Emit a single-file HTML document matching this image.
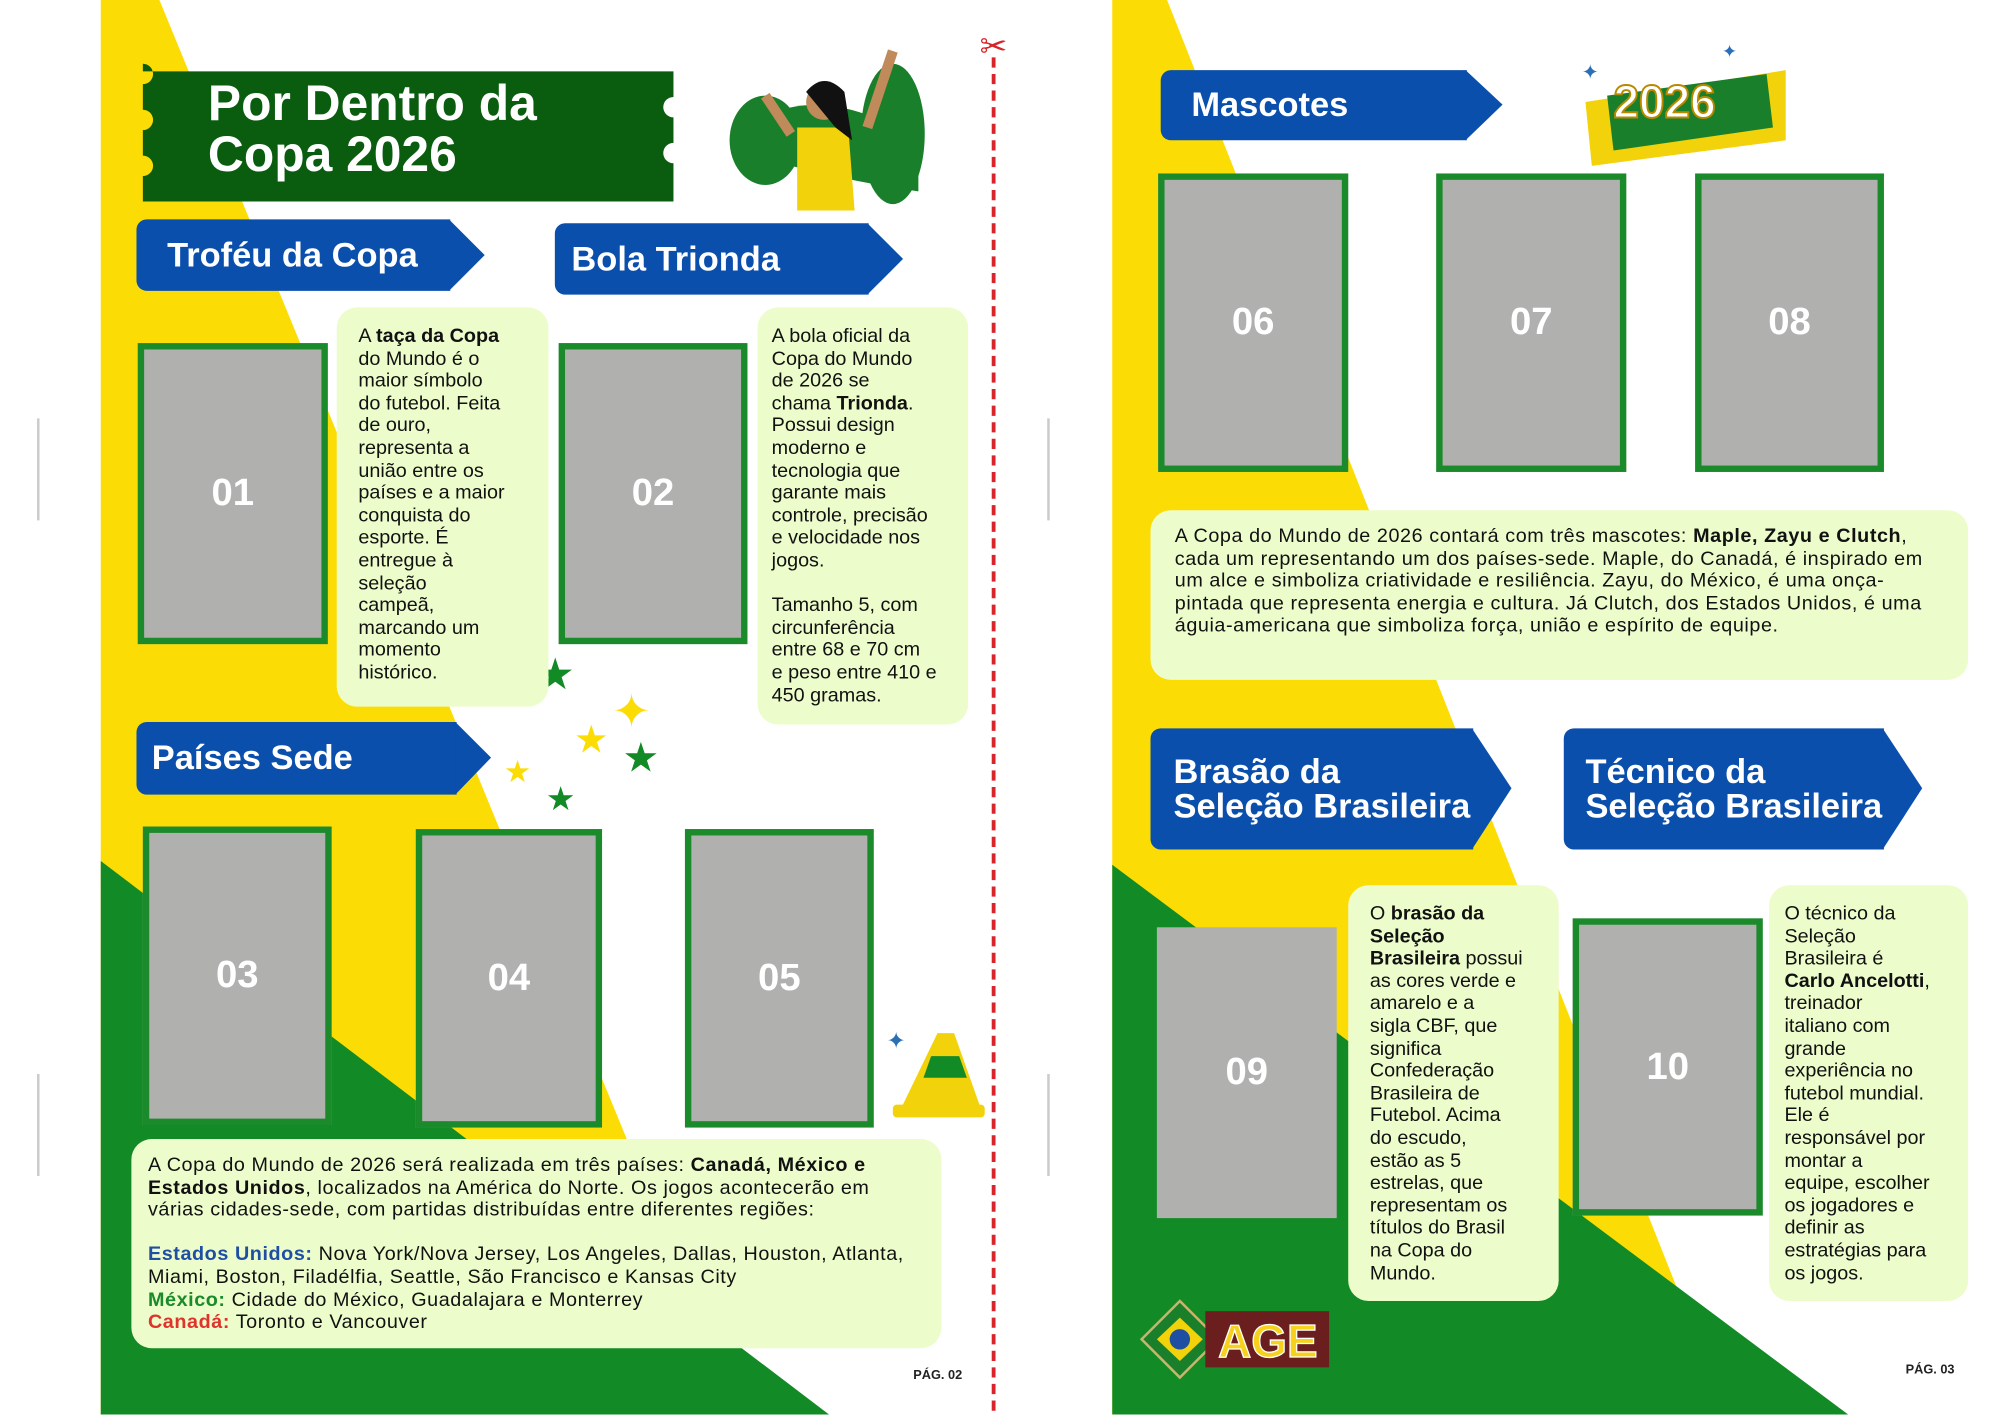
<!DOCTYPE html>
<html><head><meta charset="utf-8">
<style>
html,body{margin:0;padding:0;background:#fff;width:2000px;height:1414px;overflow:hidden}
#w{position:absolute;left:0;top:0;width:1568px;height:1109px;transform:scale(1.27551);transform-origin:0 0;font-family:"Liberation Sans",sans-serif}
.a{position:absolute}
.ph{position:absolute;background:#b0b1ae;border:5px solid #1b8a2b;box-sizing:border-box;color:#fff;font-weight:bold;font-size:30px;display:flex;align-items:center;justify-content:center}
.tb{position:absolute;background:#ecfccb;border-radius:16px;box-sizing:border-box;font-size:15.5px;line-height:17.6px;color:#111;padding:14px 8px 0 17px;white-space:nowrap}
.wd{white-space:normal;letter-spacing:0.45px}
.ar{position:absolute;background:#0b4fad;color:#fff;font-weight:bold;font-size:27px;border-radius:8px 0 0 8px;box-sizing:border-box;padding-left:24px;display:flex;align-items:center;line-height:27px}
.pg{position:absolute;font-size:10px;font-weight:bold;color:#222}
</style></head><body><div id="w">
<svg class="a" style="left:0;top:0" width="1568" height="1109">
 <rect x="79" y="0" width="700" height="1109" fill="#fff"/>
 <polygon points="79,0 125,0 580,1109 79,1109" fill="#fbdd05"/>
 <polygon points="79,675 650,1109 79,1109" fill="#128a25"/>
 <polygon points="872,0 915,0 1354,1109 872,1109" fill="#fbdd05"/>
 <polygon points="872,678 1449,1109 872,1109" fill="#128a25"/>
 <line x1="779" y1="45" x2="779" y2="1109" stroke="#d9242a" stroke-width="3" stroke-dasharray="8,5"/>
 <text x="768" y="45" font-size="26" fill="#d9242a">✂</text>
 <path d="M30 328 v80 M822 328 v80 M30 842 v80 M822 842 v80" stroke="#ccc" stroke-width="2"/>
 <path d="M112 56 H528 v20 a8 8 0 0 0 0 16 v20 a8 8 0 0 0 0 16 v30 H112 v-20 a8 8 0 0 0 0 -16 v-20 a8 8 0 0 0 0 -16 v-20 a8 8 0 0 0 0 -16 z" fill="#0a5c0f"/>
 <ellipse cx="600" cy="110" rx="28" ry="35" fill="#1a7f2a"/>
 <ellipse cx="700" cy="105" rx="25" ry="55" fill="#1a7f2a"/>
 <path d="M585 100 Q640 60 720 110 L720 150 Q650 140 585 120z" fill="#1a7f2a"/>
 <path d="M625 100 L665 100 L670 165 L625 165 z" fill="#f2d20a"/>
 <circle cx="646" cy="80" r="14" fill="#c08a5a"/>
 <path d="M632 72 Q646 55 662 72 L668 110 L655 100 Z" fill="#111"/>
 <path d="M600 75 L620 105 M700 40 L680 100" stroke="#c08a5a" stroke-width="8"/>
 <g fill="#128a25"><text x="420" y="540" font-size="34">★</text><text x="488" y="605" font-size="32">★</text><text x="428" y="635" font-size="26">★</text></g>
 <g fill="#fbdd05"><text x="480" y="570" font-size="36">✦</text><text x="450" y="590" font-size="30">★</text><text x="395" y="613" font-size="24">★</text></g>
 <polygon points="735,810 748,810 770,872 705,872" fill="#f2d20a"/>
 <polygon points="730,828 752,828 758,845 724,845" fill="#128a25"/>
 <rect x="700" y="866" width="72" height="10" rx="3" fill="#f2d20a"/>
 <text x="695" y="822" font-size="18" fill="#2a6fb8">✦</text>
 <path d="M1243 80 L1400 55 L1400 110 L1248 130 Z" fill="#f2d20a"/>
 <path d="M1260 75 L1385 58 L1390 100 L1265 118 Z" fill="#1a7f2a"/>
 <text x="1265" y="92" font-size="36" font-weight="bold" fill="#fff" stroke="#b98a00" stroke-width="1.5" font-family="Liberation Sans">2026</text>
 <g fill="#2a6fb8"><text x="1240" y="62" font-size="16">✦</text><text x="1350" y="45" font-size="14">✦</text></g>
 <polygon points="925,1020 955,1050 925,1080 895,1050" fill="#1a7f2a" stroke="#c8b46a" stroke-width="2"/>
 <polygon points="925,1033 943,1050 925,1067 907,1050" fill="#f2d20a"/>
 <circle cx="925" cy="1050" r="8" fill="#1f4fa3"/>
 <rect x="945" y="1028" width="97" height="44" fill="#6b1e1e"/>
 <text x="955" y="1064" font-size="36" font-weight="bold" fill="#f7d21c" stroke="#fff" stroke-width="1">AGE</text>
</svg>
<div class="a" style="left:163px;top:62px;color:#fff;font-weight:bold;font-size:39px;line-height:40px">Por Dentro da<br>Copa 2026</div>

<div class="ar" style="left:107px;top:172px;width:246px;height:56px">Troféu da Copa</div>
<div class="ar" style="left:435px;top:175px;width:246px;height:56px;padding-left:13px">Bola Trionda</div>
<div class="ar" style="left:107px;top:566px;width:251px;height:57px;padding-left:12px">Países Sede</div>
<div class="ar" style="left:910px;top:55px;width:240px;height:55px">Mascotes</div>
<div class="ar" style="left:902px;top:571px;width:253px;height:95px;padding-left:18px">Brasão da<br>Seleção Brasileira</div>
<div class="ar" style="left:1226px;top:571px;width:251px;height:95px;padding-left:17px">Técnico da<br>Seleção Brasileira</div>
<svg class="a" style="left:0;top:0" width="1568" height="1109">
 <g fill="#0b4fad">
 <polygon points="352,172 380,200 352,228"/>
 <polygon points="680,175 708,203 680,231"/>
 <polygon points="357,566 385,594 357,623"/>
 <polygon points="1149,55 1178,82 1149,110"/>
 <polygon points="1154,571 1185,618 1154,666"/>
 <polygon points="1476,571 1507,618 1476,666"/>
 </g>
</svg>

<div class="ph" style="left:108px;top:269px;width:149px;height:236px">01</div>
<div class="ph" style="left:438px;top:269px;width:148px;height:236px">02</div>
<div class="ph" style="left:112px;top:648px;width:148px;height:234px">03</div>
<div class="ph" style="left:326px;top:650px;width:146px;height:234px">04</div>
<div class="ph" style="left:537px;top:650px;width:148px;height:234px">05</div>
<div class="ph" style="left:908px;top:136px;width:149px;height:234px">06</div>
<div class="ph" style="left:1126px;top:136px;width:149px;height:234px">07</div>
<div class="ph" style="left:1329px;top:136px;width:148px;height:234px">08</div>
<div class="ph" style="left:907px;top:727px;width:141px;height:228px;border:none">09</div>
<div class="ph" style="left:1233px;top:720px;width:149px;height:233px">10</div>

<div class="tb" style="left:264px;top:241px;width:166px;height:313px">A <b>taça da Copa</b><br>do Mundo é o<br>maior símbolo<br>do futebol. Feita<br>de ouro,<br>representa a<br>união entre os<br>países e a maior<br>conquista do<br>esporte. É<br>entregue à<br>seleção<br>campeã,<br>marcando um<br>momento<br>histórico.</div>
<div class="tb" style="left:594px;top:241px;width:165px;height:327px;padding-left:11px">A bola oficial da<br>Copa do Mundo<br>de 2026 se<br>chama <b>Trionda</b>.<br>Possui design<br>moderno e<br>tecnologia que<br>garante mais<br>controle, precisão<br>e velocidade nos<br>jogos.<br><br>Tamanho 5, com<br>circunferência<br>entre 68 e 70 cm<br>e peso entre 410 e<br>450 gramas.</div>
<div class="tb wd" style="left:103px;top:893px;width:635px;height:164px;padding:12px 10px 0 13px">A Copa do Mundo de 2026 será realizada em três países: <b>Canadá, México e Estados Unidos</b>, localizados na América do Norte. Os jogos acontecerão em várias cidades-sede, com partidas distribuídas entre diferentes regiões:<br><br><b style="color:#1f4fa3">Estados Unidos:</b> Nova York/Nova Jersey, Los Angeles, Dallas, Houston, Atlanta, Miami, Boston, Filadélfia, Seattle, São Francisco e Kansas City<br><b style="color:#1a8a2a">México:</b> Cidade do México, Guadalajara e Monterrey<br><b style="color:#e0332b">Canadá:</b> Toronto e Vancouver</div>
<div class="tb wd" style="left:902px;top:400px;width:641px;height:133px;padding:12px 12px 0 19px">A Copa do Mundo de 2026 contará com três mascotes: <b>Maple, Zayu e Clutch</b>, cada um representando um dos países-sede. Maple, do Canadá, é inspirado em um alce e simboliza criatividade e resiliência. Zayu, do México, é uma onça-pintada que representa energia e cultura. Já Clutch, dos Estados Unidos, é uma águia-americana que simboliza força, união e espírito de equipe.</div>
<div class="tb" style="left:1057px;top:694px;width:165px;height:326px">O <b>brasão da<br>Seleção<br>Brasileira</b> possui<br>as cores verde e<br>amarelo e a<br>sigla CBF, que<br>significa<br>Confederação<br>Brasileira de<br>Futebol. Acima<br>do escudo,<br>estão as 5<br>estrelas, que<br>representam os<br>títulos do Brasil<br>na Copa do<br>Mundo.</div>
<div class="tb" style="left:1387px;top:694px;width:156px;height:326px;padding-left:12px">O técnico da<br>Seleção<br>Brasileira é<br><b>Carlo Ancelotti</b>,<br>treinador<br>italiano com<br>grande<br>experiência no<br>futebol mundial.<br>Ele é<br>responsável por<br>montar a<br>equipe, escolher<br>os jogadores e<br>definir as<br>estratégias para<br>os jogos.</div>

<div class="pg" style="left:716px;top:1073px">PÁG. 02</div>
<div class="pg" style="left:1494px;top:1069px">PÁG. 03</div>
</div></body></html>
